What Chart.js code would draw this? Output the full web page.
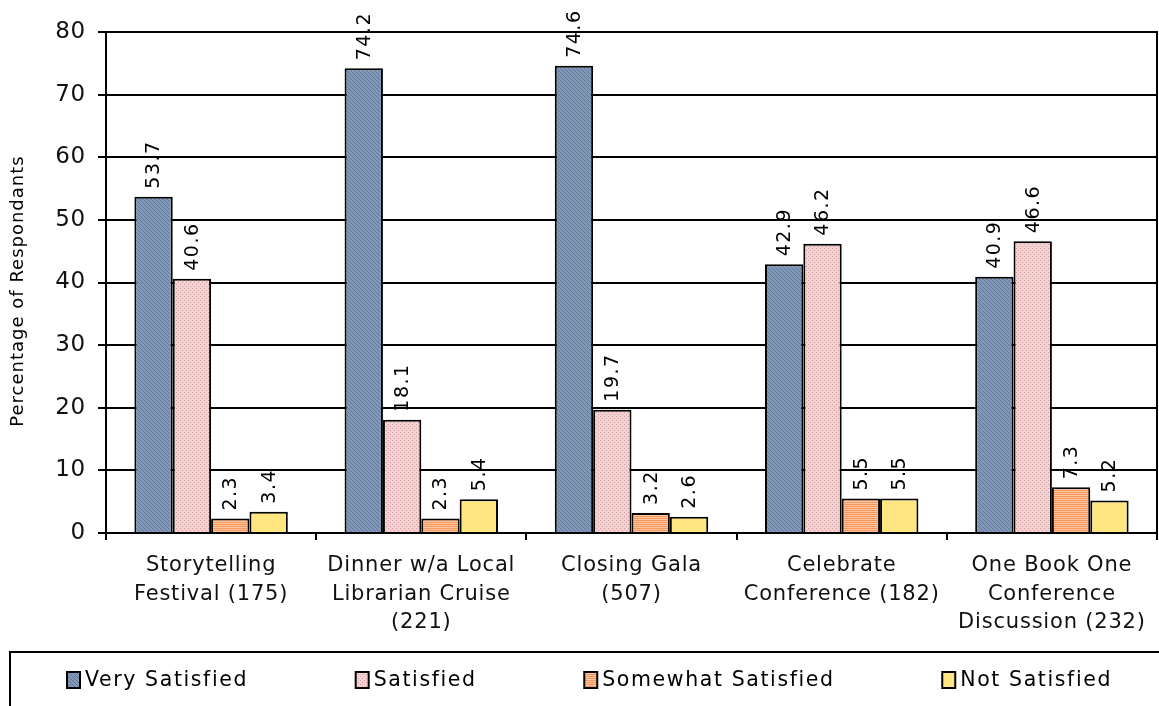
<!DOCTYPE html>
<html>
<head>
<meta charset="utf-8">
<script src="https://cdn.jsdelivr.net/npm/chart.js@4/dist/chart.umd.min.js"></script>
<style>
  html, body { margin: 0; background: #fff; }
  canvas { display: block; }
</style>
</head>
<body>
<canvas id="chart" width="1159" height="706"></canvas>
<script>
const categories = [
  ["Storytelling", "Festival (175)"],
  ["Dinner w/a Local", "Librarian Cruise", "(221)"],
  ["Closing Gala", "(507)"],
  ["Celebrate", "Conference (182)"],
  ["One Book One", "Conference", "Discussion (232)"]
];
const seriesNames = ["Very Satisfied", "Satisfied", "Somewhat Satisfied", "Not Satisfied"];
const verySatisfied = [53.7, 74.2, 74.6, 42.9, 40.9];
const satisfied = [40.6, 18.1, 19.7, 46.2, 46.6];
const somewhatSatisfied = [2.3, 2.3, 3.2, 5.5, 7.3];
const notSatisfied = [3.4, 5.4, 2.6, 5.5, 5.2];
const yMin = 0, yMax = 80, yStep = 10;
const yTitle = "Percentage of Respondants";

const FONT = "'DejaVu Sans', Verdana, sans-serif";
const canvas = document.getElementById("chart");
const ctx = canvas.getContext("2d");

// small tiled fills that mimic the old office patterns
function makePattern(kind) {
  const p = document.createElement("canvas");
  p.width = 4; p.height = 4;
  const g = p.getContext("2d");
  if (kind === "blue") {
    g.fillStyle = "#8198b6"; g.fillRect(0, 0, 4, 4);
    g.fillStyle = "#64799a";
    for (let i = 0; i < 4; i++) g.fillRect(i, i, 1, 1);
  } else if (kind === "pink") {
    g.fillStyle = "#f2d2d2"; g.fillRect(0, 0, 4, 4);
    g.fillStyle = "#d69c9c";
    g.fillRect(0, 0, 1, 1); g.fillRect(2, 2, 1, 1);
  } else if (kind === "orange") {
    g.fillStyle = "#ffc6a0"; g.fillRect(0, 0, 4, 4);
    g.fillStyle = "#f7975c";
    g.fillRect(0, 0, 4, 1); g.fillRect(0, 2, 4, 1);
  } else {
    g.fillStyle = "#ffe680"; g.fillRect(0, 0, 4, 4);
  }
  return ctx.createPattern(p, "repeat");
}
const fills = [makePattern("blue"), makePattern("pink"), makePattern("orange"), makePattern("yellow")];
const values = [verySatisfied, satisfied, somewhatSatisfied, notSatisfied];

const frame = {
  id: "frame",
  beforeDraw(chart) {
    chart.ctx.letterSpacing = "0.8px";
  },
  afterDraw(chart) {
    const c = chart.ctx;
    const a = chart.chartArea;
    c.save();
    // right border of the plot
    c.strokeStyle = "#000"; c.lineWidth = 2;
    c.beginPath(); c.moveTo(a.right, a.top - 1); c.lineTo(a.right, a.bottom); c.stroke();

    // y title
    c.letterSpacing = "1px";
    c.font = "18px " + FONT;
    c.fillStyle = "#000";
    c.translate(18, 291);
    c.rotate(-Math.PI / 2);
    c.textAlign = "center"; c.textBaseline = "middle";
    c.fillText(yTitle, 0, 0);
    c.restore();

    // value labels above bars
    c.save();
    c.letterSpacing = "1.5px";
    c.font = "19px " + FONT;
    c.fillStyle = "#000";
    c.textAlign = "left"; c.textBaseline = "middle";
    chart.data.datasets.forEach((ds, i) => {
      chart.getDatasetMeta(i).data.forEach((bar, j) => {
        c.save();
        c.translate(bar.x + 1, bar.y - 8);
        c.rotate(-Math.PI / 2);
        c.fillText(ds.data[j].toFixed(1), 0, 0);
        c.restore();
      });
    });
    c.restore();

    // legend box
    c.save();
    c.strokeStyle = "#000"; c.lineWidth = 2;
    c.strokeRect(10, 652, 1170, 80);
    c.letterSpacing = "1.6px";
    c.font = "20.5px " + FONT;
    c.textBaseline = "middle"; c.textAlign = "left";
    const box = 13, gapText = 5;
    const widths = chart.data.datasets.map(ds => box + gapText + c.measureText(ds.label).width);
    const x0 = 67, x1 = 1112;
    const gap = (x1 - x0 - widths.reduce((s, w) => s + w, 0)) / (widths.length - 1);
    let x = x0;
    const ly = 680;
    chart.data.datasets.forEach((ds, i) => {
      c.fillStyle = ds.backgroundColor;
      c.fillRect(x, ly - 8, box, 16);
      c.lineWidth = 2; c.strokeStyle = "#000";
      c.strokeRect(x, ly - 8, box, 16);
      c.fillStyle = "#000";
      c.fillText(ds.label, x + box + gapText, ly + 1);
      x += widths[i] + gap;
    });
    c.restore();
  }
};

new Chart(ctx, {
  type: "bar",
  data: {
    labels: categories,
    datasets: seriesNames.map((name, i) => ({
      label: name,
      data: values[i],
      backgroundColor: fills[i],
      borderColor: "#000",
      borderWidth: 2,
      borderSkipped: "bottom",
      categoryPercentage: 0.73,
      barPercentage: 1.0
    }))
  },
  options: {
    responsive: false,
    animation: false,
    devicePixelRatio: 1,
    layout: { padding: { top: 32, right: 2, left: 0, bottom: 0 } },
    plugins: {
      legend: { display: false },
      tooltip: { enabled: false }
    },
    scales: {
      x: {
        afterFit(scale) { scale.height = 173; },
        grid: { display: true, drawOnChartArea: false, drawTicks: true, tickLength: 7, color: "#000", lineWidth: 2 },
        border: { display: true, color: "#000", width: 2 },
        ticks: {
          color: "#111",
          font: { family: FONT, size: 21, lineHeight: 1.37 },
          padding: 11,
          maxRotation: 0,
          autoSkip: false
        }
      },
      y: {
        min: yMin, max: yMax,
        afterFit(scale) { scale.width = 106; },
        grid: { color: "#000", lineWidth: 2, drawTicks: true, tickLength: 8 },
        border: { display: true, color: "#000", width: 2 },
        ticks: {
          stepSize: yStep,
          color: "#111",
          font: { family: FONT, size: 23 },
          padding: 12
        }
      }
    }
  },
  plugins: [frame]
});
</script>
</body>
</html>
